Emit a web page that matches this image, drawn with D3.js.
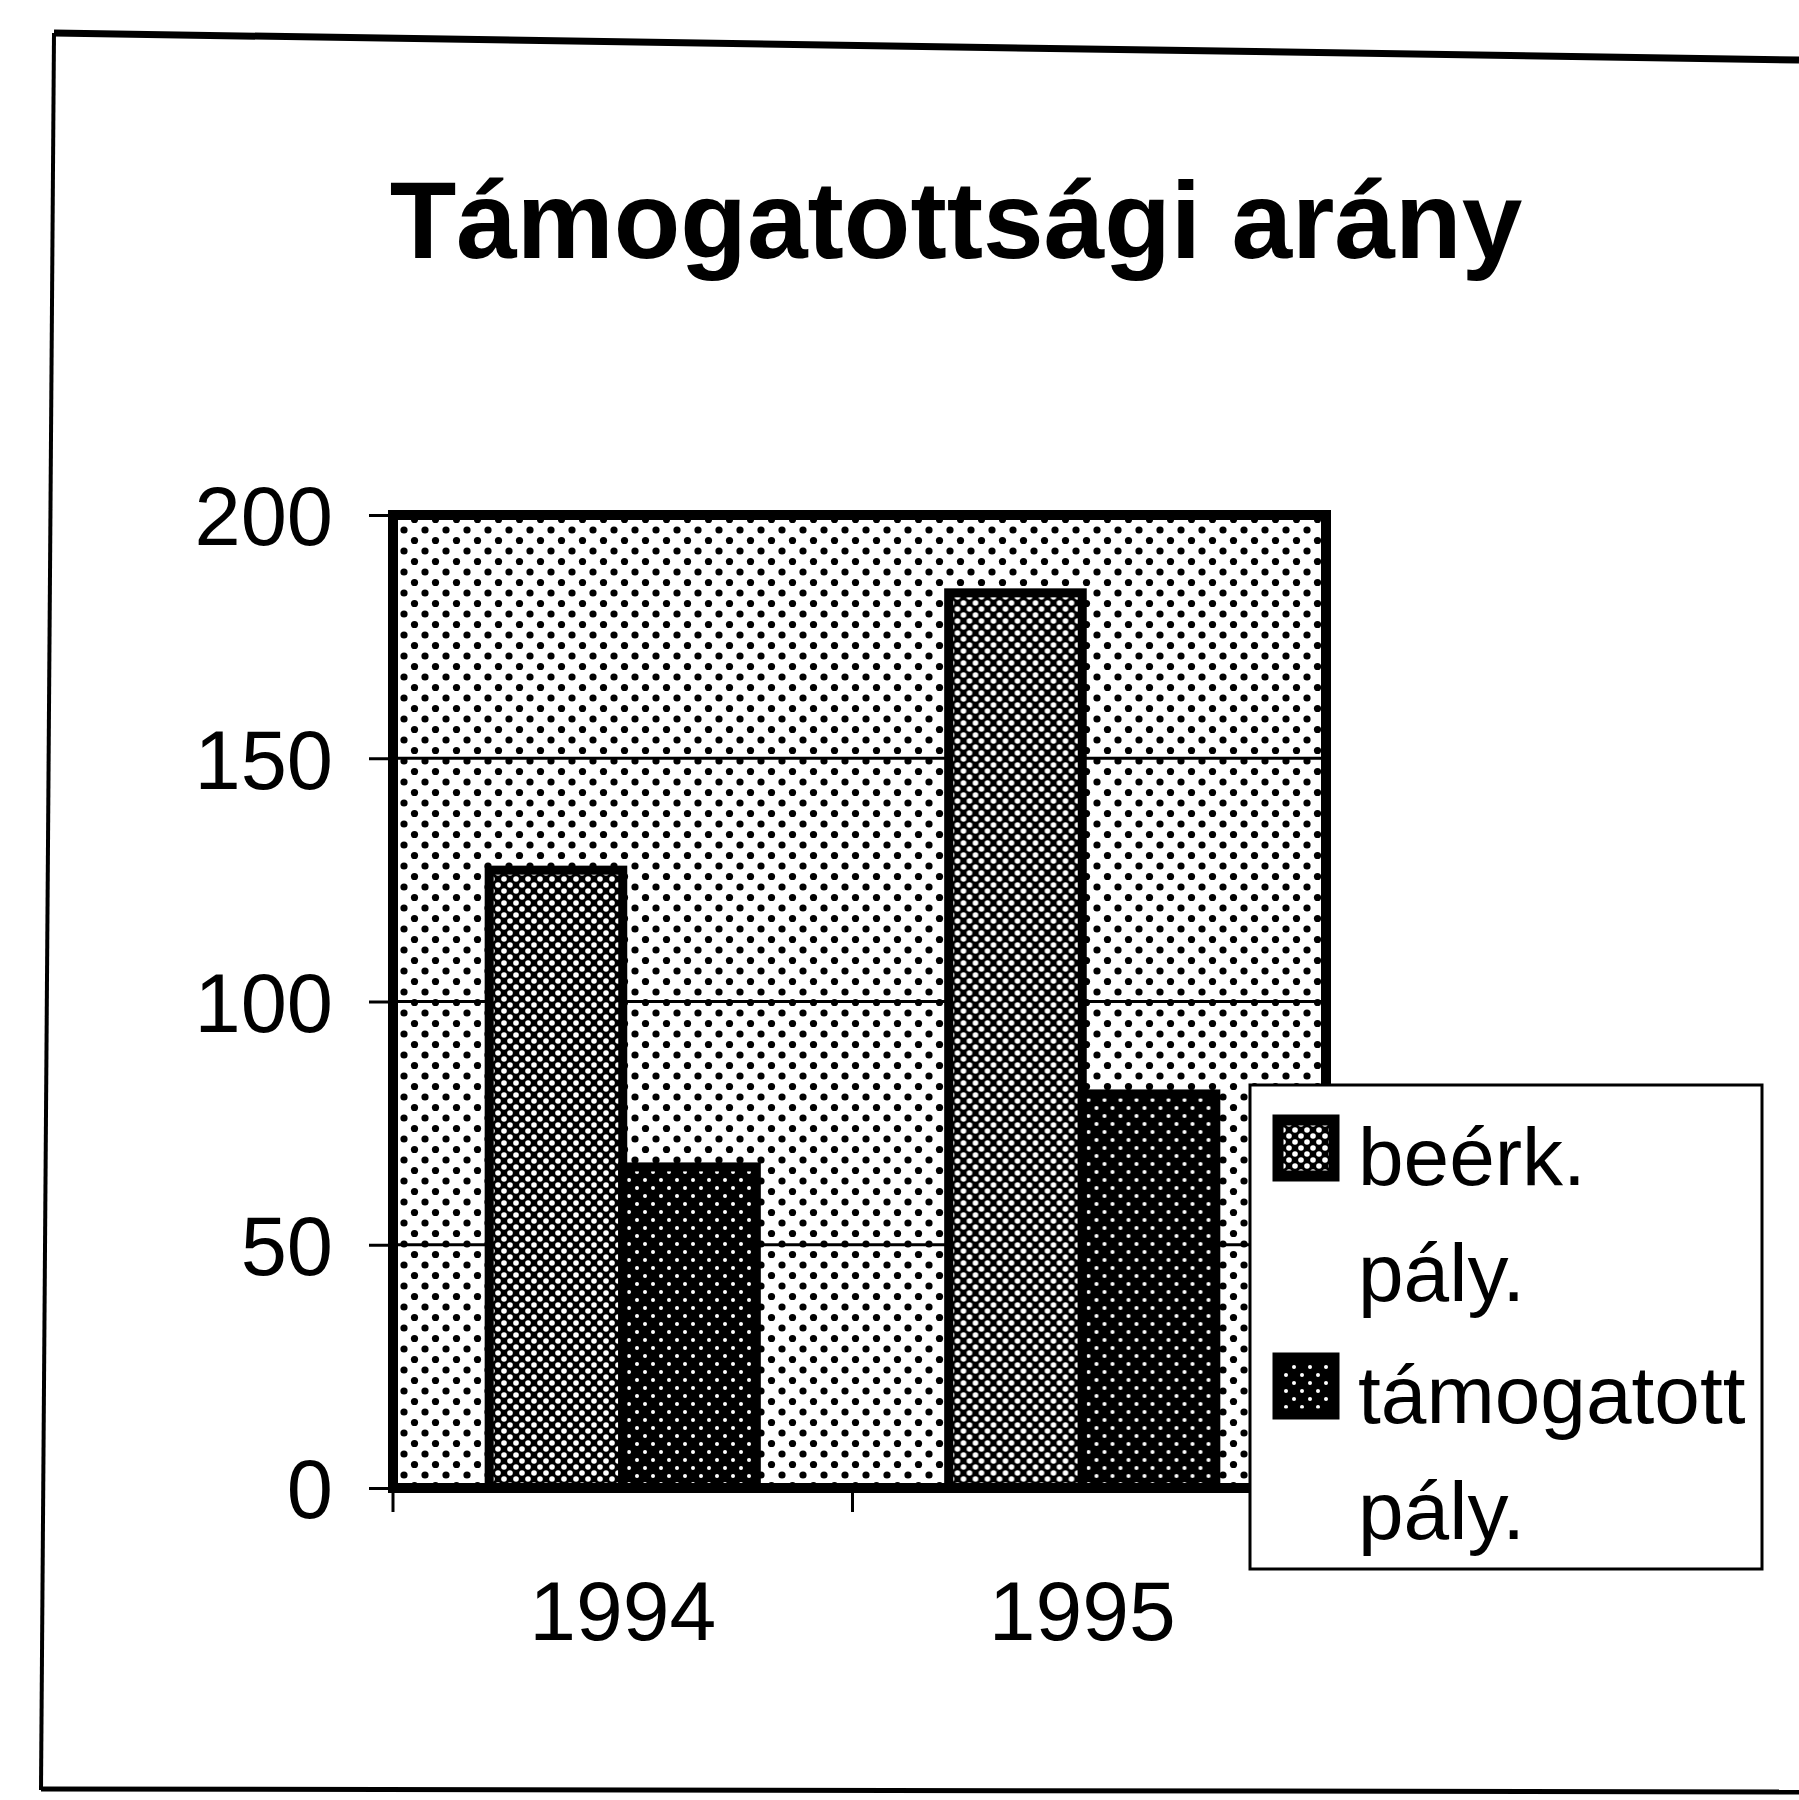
<!DOCTYPE html>
<html>
<head>
<meta charset="utf-8">
<script src="https://cdn.jsdelivr.net/npm/d3@7"></script>
<style>
  body { margin: 0; background: #fff; }
  text { font-family: "Liberation Sans", Arial, sans-serif; }
</style>
</head>
<body>
<script>
var w = 1799;
var h = 1800;

// data
var years = ["1994", "1995"];
var seriesNames = ["beérk.", "támogatott"];
var legendLines = [["beérk.", "pály."], ["támogatott", "pály."]];
var beerk = [127, 184];
var tamogatott = [66, 81];
var yTicks = [0, 50, 100, 150, 200];

var dataset = [];
for (let i = 0; i < years.length; i++) {
  dataset.push({ year: years[i], values: [
    { key: seriesNames[0], value: beerk[i] },
    { key: seriesNames[1], value: tamogatott[i] }
  ] });
}

var plot = { left: 393, top: 515, right: 1326, bottom: 1488 };

var x0 = d3.scaleBand().domain(years).range([plot.left, 1312]).padding(0);
var x1 = d3.scaleBand().domain(seriesNames).range([0, x0.bandwidth()])
  .paddingInner(0).paddingOuter(0.72);
var y = d3.scaleLinear().domain([0, 200]).range([plot.bottom, plot.top]);

var svg = d3.select("body").append("svg").attr("width", w).attr("height", h);

//Patterns
var defs = svg.append("defs");
var pBg = defs.append("pattern").attr("id", "bgdots").attr("patternUnits", "userSpaceOnUse")
  .attr("width", 21).attr("height", 21);
pBg.append("rect").attr("width", 21).attr("height", 21).attr("fill", "#fff");
pBg.append("circle").attr("cx", 5).attr("cy", 5).attr("r", 3.6).attr("fill", "#000");
pBg.append("circle").attr("cx", 15.5).attr("cy", 15.5).attr("r", 3.6).attr("fill", "#000");

var pA = defs.append("pattern").attr("id", "patA").attr("patternUnits", "userSpaceOnUse")
  .attr("width", 12).attr("height", 12);
pA.append("rect").attr("width", 12).attr("height", 12).attr("fill", "#000");
pA.append("circle").attr("cx", 3).attr("cy", 3).attr("r", 2.8).attr("fill", "#fff");
pA.append("circle").attr("cx", 9).attr("cy", 9).attr("r", 2.8).attr("fill", "#fff");

var pB = defs.append("pattern").attr("id", "patB").attr("patternUnits", "userSpaceOnUse")
  .attr("width", 16).attr("height", 16);
pB.append("rect").attr("width", 16).attr("height", 16).attr("fill", "#000");
pB.append("circle").attr("cx", 4).attr("cy", 4).attr("r", 2).attr("fill", "#fff");
pB.append("circle").attr("cx", 12).attr("cy", 12).attr("r", 2).attr("fill", "#fff");

var fills = { "beérk.": "url(#patA)", "támogatott": "url(#patB)" };

//Outer frame
svg.append("line").attr("x1", 54).attr("y1", 33).attr("x2", 1799).attr("y2", 60)
  .attr("stroke", "#000").attr("stroke-width", 7);
svg.append("line").attr("x1", 54).attr("y1", 33).attr("x2", 41).attr("y2", 1790)
  .attr("stroke", "#000").attr("stroke-width", 4);
svg.append("line").attr("x1", 41).attr("y1", 1789).attr("x2", 1799).attr("y2", 1792)
  .attr("stroke", "#000").attr("stroke-width", 5);

//Title
svg.append("text").attr("x", 956).attr("y", 258).attr("text-anchor", "middle")
  .attr("font-size", "109px").attr("font-weight", "bold").attr("fill", "#000")
  .text("Támogatottsági arány");

//Plot background
svg.append("rect").attr("x", plot.left).attr("y", plot.top)
  .attr("width", plot.right - plot.left).attr("height", plot.bottom - plot.top)
  .attr("fill", "url(#bgdots)");

//Gridlines
svg.selectAll(".grid").data(yTicks.filter(function (d) { return d > 0 && d < 200; }))
  .enter().append("line").attr("class", "grid")
  .attr("x1", plot.left).attr("x2", plot.right)
  .attr("y1", function (d) { return y(d); }).attr("y2", function (d) { return y(d); })
  .attr("stroke", "#000").attr("stroke-width", 3);

//Bars
var groups = svg.selectAll(".grp").data(dataset).enter().append("g")
  .attr("class", "grp")
  .attr("transform", function (d) { return "translate(" + x0(d.year) + ",0)"; });
groups.selectAll("rect").data(function (d) { return d.values; }).enter().append("rect")
  .attr("x", function (d) { return x1(d.key); })
  .attr("y", function (d) { return y(d.value); })
  .attr("width", x1.bandwidth())
  .attr("height", function (d) { return y(0) - y(d.value); })
  .attr("fill", function (d) { return fills[d.key]; })
  .attr("stroke", "#000").attr("stroke-width", 9);

//Plot frame
svg.append("rect").attr("x", plot.left).attr("y", plot.top)
  .attr("width", plot.right - plot.left).attr("height", plot.bottom - plot.top)
  .attr("fill", "none").attr("stroke", "#000").attr("stroke-width", 10);

//Y axis
var yAxis = d3.axisLeft(y).tickValues(yTicks).tickSize(24).tickPadding(36);
var gy = svg.append("g").attr("transform", "translate(" + plot.left + ",0)").call(yAxis);
gy.select(".domain").remove();
gy.selectAll(".tick line").attr("stroke", "#000").attr("stroke-width", 3);
gy.selectAll(".tick text").attr("font-size", "83px").attr("fill", "#000")
  .attr("font-family", "Liberation Sans, Arial, sans-serif").attr("dy", "0.36em");

//X axis
var xAxis = d3.axisBottom(x0).tickSize(0).tickPadding(92);
var gx = svg.append("g").attr("transform", "translate(0," + plot.bottom + ")").call(xAxis);
gx.select(".domain").remove();
gx.selectAll(".tick text").attr("font-size", "84px").attr("fill", "#000")
  .attr("font-family", "Liberation Sans, Arial, sans-serif");
// ticks between categories
var bounds = [x0.range()[0], x0(years[1]), plot.right];
svg.selectAll(".xtick").data(bounds).enter().append("line").attr("class", "xtick")
  .attr("x1", function (d) { return d; }).attr("x2", function (d) { return d; })
  .attr("y1", plot.bottom).attr("y2", plot.bottom + 24)
  .attr("stroke", "#000").attr("stroke-width", 3);

//Legend
var legend = svg.append("g").attr("transform", "translate(1250,1085)");
legend.append("rect").attr("width", 512).attr("height", 484)
  .attr("fill", "#fff").attr("stroke", "#000").attr("stroke-width", 3);
var items = legend.selectAll(".item").data(seriesNames).enter().append("g")
  .attr("class", "item")
  .attr("transform", function (d, i) { return "translate(0," + (i * 238) + ")"; });
items.append("rect").attr("x", 28).attr("y", 35).attr("width", 56).attr("height", 56)
  .attr("fill", function (d) { return fills[d]; })
  .attr("stroke", "#000").attr("stroke-width", 11);
items.append("text").attr("x", 108).attr("y", 100).attr("font-size", "82px").attr("fill", "#000")
  .selectAll("tspan").data(function (d, i) { return legendLines[i]; }).enter().append("tspan")
  .attr("x", 108).attr("dy", function (d, i) { return i === 0 ? 0 : 116; })
  .text(function (d) { return d; });
</script>
</body>
</html>
